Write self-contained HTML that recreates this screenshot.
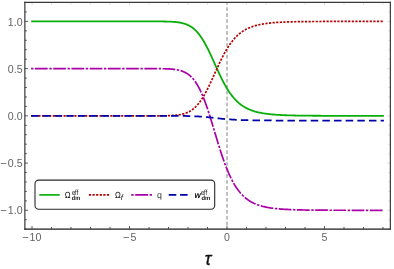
<!DOCTYPE html>
<html><head><meta charset="utf-8"><title>plot</title>
<style>html,body{margin:0;padding:0;background:#fff;}body{width:394px;height:269px;overflow:hidden;font-family:"Liberation Sans",sans-serif;}</style></head>
<body>
<svg width="394" height="269" viewBox="0 0 394 269" style="display:block;will-change:transform">
<rect x="0" y="0" width="394" height="269" fill="#fff"/>
<line x1="227.02" y1="2.4" x2="227.02" y2="229.14" stroke="#808080" stroke-width="1" stroke-dasharray="3.7 2.26" stroke-dashoffset="1.1"/>
<g fill="none" stroke-linejoin="round">
<path d="M31.10,21.40 L32.00,21.40 L32.98,21.40 L33.95,21.40 L34.93,21.40 L35.90,21.40 L36.88,21.40 L37.85,21.40 L38.82,21.40 L39.80,21.40 L40.77,21.40 L41.75,21.40 L42.73,21.40 L43.70,21.40 L44.68,21.40 L45.65,21.40 L46.62,21.40 L47.60,21.40 L48.57,21.40 L49.55,21.40 L50.52,21.40 L51.50,21.40 L52.48,21.40 L53.45,21.40 L54.43,21.40 L55.40,21.40 L56.38,21.40 L57.35,21.40 L58.32,21.40 L59.30,21.40 L60.27,21.40 L61.25,21.40 L62.23,21.40 L63.20,21.40 L64.18,21.40 L65.15,21.40 L66.12,21.40 L67.10,21.40 L68.07,21.40 L69.05,21.40 L70.02,21.40 L71.00,21.40 L71.98,21.40 L72.95,21.40 L73.93,21.40 L74.90,21.40 L75.88,21.40 L76.85,21.40 L77.82,21.40 L78.80,21.40 L79.78,21.40 L80.75,21.40 L81.73,21.40 L82.70,21.40 L83.68,21.40 L84.65,21.40 L85.62,21.40 L86.60,21.40 L87.57,21.40 L88.55,21.40 L89.53,21.40 L90.50,21.40 L91.48,21.40 L92.45,21.40 L93.43,21.40 L94.40,21.40 L95.38,21.40 L96.35,21.40 L97.32,21.40 L98.30,21.40 L99.28,21.40 L100.25,21.40 L101.23,21.40 L102.20,21.40 L103.18,21.40 L104.15,21.40 L105.12,21.40 L106.10,21.40 L107.07,21.40 L108.05,21.40 L109.03,21.40 L110.00,21.40 L110.97,21.40 L111.95,21.40 L112.93,21.40 L113.90,21.40 L114.88,21.40 L115.85,21.40 L116.83,21.40 L117.80,21.40 L118.78,21.40 L119.75,21.40 L120.72,21.40 L121.70,21.40 L122.68,21.40 L123.65,21.40 L124.62,21.40 L125.60,21.40 L126.58,21.40 L127.55,21.40 L128.53,21.40 L129.50,21.40 L130.48,21.40 L131.45,21.40 L132.43,21.40 L133.40,21.40 L134.38,21.40 L135.35,21.40 L136.33,21.40 L137.30,21.40 L138.28,21.40 L139.25,21.40 L140.23,21.40 L141.20,21.40 L142.18,21.40 L143.15,21.40 L144.12,21.40 L145.10,21.40 L146.08,21.40 L147.05,21.40 L148.03,21.40 L149.00,21.40 L149.98,21.40 L150.95,21.41 L151.93,21.41 L152.90,21.41 L153.88,21.41 L154.85,21.41 L155.83,21.42 L156.80,21.42 L157.78,21.43 L158.75,21.43 L159.73,21.44 L160.70,21.45 L161.68,21.46 L162.65,21.47 L163.62,21.48 L164.60,21.50 L165.58,21.52 L166.55,21.54 L167.53,21.56 L168.50,21.59 L169.48,21.63 L170.45,21.67 L171.43,21.72 L172.40,21.78 L173.38,21.84 L174.35,21.92 L175.33,22.00 L176.30,22.10 L177.28,22.22 L178.25,22.35 L179.23,22.49 L180.20,22.66 L181.18,22.85 L182.15,23.07 L183.12,23.32 L184.10,23.59 L185.08,23.90 L186.05,24.25 L187.03,24.64 L188.00,25.07 L188.98,25.55 L189.95,26.09 L190.93,26.68 L191.90,27.33 L192.88,28.04 L193.85,28.82 L194.82,29.68 L195.80,30.61 L196.78,31.61 L197.75,32.70 L198.73,33.88 L199.70,35.14 L200.68,36.48 L201.65,37.91 L202.62,39.43 L203.60,41.03 L204.57,42.71 L205.55,44.48 L206.53,46.31 L207.50,48.22 L208.48,50.18 L209.45,52.21 L210.43,54.27 L211.40,56.38 L212.38,58.52 L213.35,60.68 L214.32,62.85 L215.30,65.03 L216.28,67.19 L217.25,69.34 L218.23,71.47 L219.20,73.56 L220.18,75.61 L221.15,77.62 L222.12,79.58 L223.10,81.48 L224.08,83.32 L225.05,85.09 L226.03,86.80 L227.00,88.44 L227.98,90.01 L228.95,91.51 L229.93,92.94 L230.90,94.30 L231.88,95.59 L232.85,96.82 L233.83,97.98 L234.80,99.08 L235.78,100.11 L236.75,101.09 L237.73,102.01 L238.70,102.88 L239.68,103.69 L240.65,104.46 L241.62,105.17 L242.60,105.85 L243.58,106.48 L244.55,107.07 L245.53,107.63 L246.50,108.15 L247.48,108.64 L248.45,109.09 L249.43,109.52 L250.40,109.92 L251.38,110.29 L252.35,110.64 L253.33,110.97 L254.30,111.28 L255.28,111.56 L256.25,111.83 L257.23,112.08 L258.20,112.32 L259.18,112.54 L260.15,112.74 L261.12,112.93 L262.10,113.11 L263.08,113.28 L264.05,113.44 L265.03,113.59 L266.00,113.73 L266.98,113.86 L267.95,113.98 L268.93,114.09 L269.90,114.20 L270.88,114.30 L271.85,114.39 L272.83,114.48 L273.80,114.56 L274.78,114.64 L275.75,114.71 L276.73,114.78 L277.70,114.84 L278.68,114.90 L279.65,114.96 L280.62,115.01 L281.60,115.06 L282.58,115.11 L283.55,115.15 L284.53,115.19 L285.50,115.23 L286.48,115.26 L287.45,115.30 L288.43,115.33 L289.40,115.36 L290.38,115.39 L291.35,115.42 L292.33,115.44 L293.30,115.46 L294.28,115.49 L295.25,115.51 L296.23,115.53 L297.20,115.55 L298.18,115.56 L299.15,115.58 L300.12,115.59 L301.10,115.61 L302.08,115.62 L303.05,115.64 L304.03,115.65 L305.00,115.66 L305.98,115.67 L306.95,115.68 L307.93,115.69 L308.90,115.70 L309.88,115.71 L310.85,115.71 L311.83,115.72 L312.80,115.73 L313.78,115.74 L314.75,115.74 L315.73,115.75 L316.70,115.75 L317.68,115.76 L318.65,115.76 L319.62,115.77 L320.60,115.77 L321.58,115.78 L322.55,115.78 L323.53,115.79 L324.50,115.79 L325.48,115.79 L326.45,115.80 L327.43,115.80 L328.40,115.80 L329.38,115.80 L330.35,115.81 L331.33,115.81 L332.30,115.81 L333.28,115.81 L334.25,115.82 L335.23,115.82 L336.20,115.82 L337.18,115.82 L338.15,115.82 L339.12,115.82 L340.10,115.83 L341.08,115.83 L342.05,115.83 L343.03,115.83 L344.00,115.83 L344.98,115.83 L345.95,115.83 L346.93,115.83 L347.90,115.83 L348.88,115.84 L349.85,115.84 L350.83,115.84 L351.80,115.84 L352.77,115.84 L353.75,115.84 L354.73,115.84 L355.70,115.84 L356.68,115.84 L357.65,115.84 L358.62,115.84 L359.60,115.84 L360.58,115.84 L361.55,115.84 L362.52,115.84 L363.50,115.84 L364.48,115.84 L365.45,115.84 L366.43,115.84 L367.40,115.84 L368.38,115.85 L369.35,115.85 L370.33,115.85 L371.30,115.85 L372.27,115.85 L373.25,115.85 L374.23,115.85 L375.20,115.85 L376.18,115.85 L377.15,115.85 L378.12,115.85 L379.10,115.85 L380.08,115.85 L381.05,115.85 L382.02,115.85 L383.00,115.85 L383.90,115.85" stroke="#0aae0a" stroke-width="1.8"/>
<path d="M31.10,115.85 L32.00,115.85 L32.98,115.85 L33.95,115.85 L34.93,115.85 L35.90,115.85 L36.88,115.85 L37.85,115.85 L38.82,115.85 L39.80,115.85 L40.77,115.85 L41.75,115.85 L42.73,115.85 L43.70,115.85 L44.68,115.85 L45.65,115.85 L46.62,115.85 L47.60,115.85 L48.57,115.85 L49.55,115.85 L50.52,115.85 L51.50,115.85 L52.48,115.85 L53.45,115.85 L54.43,115.85 L55.40,115.85 L56.38,115.85 L57.35,115.85 L58.32,115.85 L59.30,115.85 L60.27,115.85 L61.25,115.85 L62.23,115.85 L63.20,115.85 L64.18,115.85 L65.15,115.85 L66.12,115.85 L67.10,115.85 L68.07,115.85 L69.05,115.85 L70.02,115.85 L71.00,115.85 L71.98,115.85 L72.95,115.85 L73.93,115.85 L74.90,115.85 L75.88,115.85 L76.85,115.85 L77.82,115.85 L78.80,115.85 L79.78,115.85 L80.75,115.85 L81.73,115.85 L82.70,115.85 L83.68,115.85 L84.65,115.85 L85.62,115.85 L86.60,115.85 L87.57,115.85 L88.55,115.85 L89.53,115.85 L90.50,115.85 L91.48,115.85 L92.45,115.85 L93.43,115.85 L94.40,115.85 L95.38,115.85 L96.35,115.85 L97.32,115.85 L98.30,115.85 L99.28,115.85 L100.25,115.85 L101.23,115.85 L102.20,115.85 L103.18,115.85 L104.15,115.85 L105.12,115.85 L106.10,115.85 L107.07,115.85 L108.05,115.85 L109.03,115.85 L110.00,115.85 L110.97,115.85 L111.95,115.85 L112.93,115.85 L113.90,115.85 L114.88,115.85 L115.85,115.85 L116.83,115.85 L117.80,115.85 L118.78,115.85 L119.75,115.85 L120.72,115.85 L121.70,115.85 L122.68,115.85 L123.65,115.85 L124.62,115.85 L125.60,115.85 L126.58,115.85 L127.55,115.85 L128.53,115.85 L129.50,115.85 L130.48,115.85 L131.45,115.85 L132.43,115.85 L133.40,115.85 L134.38,115.85 L135.35,115.85 L136.33,115.85 L137.30,115.85 L138.28,115.85 L139.25,115.85 L140.23,115.85 L141.20,115.85 L142.18,115.85 L143.15,115.85 L144.12,115.85 L145.10,115.85 L146.08,115.85 L147.05,115.85 L148.03,115.85 L149.00,115.85 L149.98,115.85 L150.95,115.84 L151.93,115.84 L152.90,115.84 L153.88,115.84 L154.85,115.84 L155.83,115.83 L156.80,115.83 L157.78,115.82 L158.75,115.82 L159.73,115.81 L160.70,115.80 L161.68,115.79 L162.65,115.78 L163.62,115.77 L164.60,115.75 L165.58,115.73 L166.55,115.71 L167.53,115.69 L168.50,115.66 L169.48,115.62 L170.45,115.58 L171.43,115.53 L172.40,115.47 L173.38,115.41 L174.35,115.33 L175.33,115.25 L176.30,115.15 L177.28,115.03 L178.25,114.90 L179.23,114.76 L180.20,114.59 L181.18,114.40 L182.15,114.18 L183.12,113.93 L184.10,113.66 L185.08,113.35 L186.05,113.00 L187.03,112.61 L188.00,112.18 L188.98,111.70 L189.95,111.16 L190.93,110.57 L191.90,109.92 L192.88,109.21 L193.85,108.43 L194.82,107.57 L195.80,106.64 L196.78,105.64 L197.75,104.55 L198.73,103.37 L199.70,102.11 L200.68,100.77 L201.65,99.34 L202.62,97.82 L203.60,96.22 L204.57,94.54 L205.55,92.77 L206.53,90.94 L207.50,89.03 L208.48,87.07 L209.45,85.04 L210.43,82.98 L211.40,80.87 L212.38,78.73 L213.35,76.57 L214.32,74.40 L215.30,72.22 L216.28,70.06 L217.25,67.91 L218.23,65.78 L219.20,63.69 L220.18,61.64 L221.15,59.63 L222.12,57.67 L223.10,55.77 L224.08,53.93 L225.05,52.16 L226.03,50.45 L227.00,48.81 L227.98,47.24 L228.95,45.74 L229.93,44.31 L230.90,42.95 L231.88,41.66 L232.85,40.43 L233.83,39.27 L234.80,38.17 L235.78,37.14 L236.75,36.16 L237.73,35.24 L238.70,34.37 L239.68,33.56 L240.65,32.79 L241.62,32.08 L242.60,31.40 L243.58,30.77 L244.55,30.18 L245.53,29.62 L246.50,29.10 L247.48,28.61 L248.45,28.16 L249.43,27.73 L250.40,27.33 L251.38,26.96 L252.35,26.61 L253.33,26.28 L254.30,25.97 L255.28,25.69 L256.25,25.42 L257.23,25.17 L258.20,24.93 L259.18,24.71 L260.15,24.51 L261.12,24.32 L262.10,24.14 L263.08,23.97 L264.05,23.81 L265.03,23.66 L266.00,23.52 L266.98,23.39 L267.95,23.27 L268.93,23.16 L269.90,23.05 L270.88,22.95 L271.85,22.86 L272.83,22.77 L273.80,22.69 L274.78,22.61 L275.75,22.54 L276.73,22.47 L277.70,22.41 L278.68,22.35 L279.65,22.29 L280.62,22.24 L281.60,22.19 L282.58,22.14 L283.55,22.10 L284.53,22.06 L285.50,22.02 L286.48,21.99 L287.45,21.95 L288.43,21.92 L289.40,21.89 L290.38,21.86 L291.35,21.83 L292.33,21.81 L293.30,21.79 L294.28,21.76 L295.25,21.74 L296.23,21.72 L297.20,21.70 L298.18,21.69 L299.15,21.67 L300.12,21.66 L301.10,21.64 L302.08,21.63 L303.05,21.61 L304.03,21.60 L305.00,21.59 L305.98,21.58 L306.95,21.57 L307.93,21.56 L308.90,21.55 L309.88,21.54 L310.85,21.54 L311.83,21.53 L312.80,21.52 L313.78,21.51 L314.75,21.51 L315.73,21.50 L316.70,21.50 L317.68,21.49 L318.65,21.49 L319.62,21.48 L320.60,21.48 L321.58,21.47 L322.55,21.47 L323.53,21.46 L324.50,21.46 L325.48,21.46 L326.45,21.45 L327.43,21.45 L328.40,21.45 L329.38,21.45 L330.35,21.44 L331.33,21.44 L332.30,21.44 L333.28,21.44 L334.25,21.43 L335.23,21.43 L336.20,21.43 L337.18,21.43 L338.15,21.43 L339.12,21.43 L340.10,21.42 L341.08,21.42 L342.05,21.42 L343.03,21.42 L344.00,21.42 L344.98,21.42 L345.95,21.42 L346.93,21.42 L347.90,21.42 L348.88,21.41 L349.85,21.41 L350.83,21.41 L351.80,21.41 L352.77,21.41 L353.75,21.41 L354.73,21.41 L355.70,21.41 L356.68,21.41 L357.65,21.41 L358.62,21.41 L359.60,21.41 L360.58,21.41 L361.55,21.41 L362.52,21.41 L363.50,21.41 L364.48,21.41 L365.45,21.41 L366.43,21.41 L367.40,21.41 L368.38,21.40 L369.35,21.40 L370.33,21.40 L371.30,21.40 L372.27,21.40 L373.25,21.40 L374.23,21.40 L375.20,21.40 L376.18,21.40 L377.15,21.40 L378.12,21.40 L379.10,21.40 L380.08,21.40 L381.05,21.40 L382.02,21.40 L383.00,21.40 L383.90,21.40" stroke="#b40000" stroke-width="1.7" stroke-dasharray="2.2 1.4" stroke-dashoffset="0"/>
<path d="M31.10,68.62 L32.00,68.62 L32.98,68.62 L33.95,68.62 L34.93,68.62 L35.90,68.62 L36.88,68.62 L37.85,68.62 L38.82,68.62 L39.80,68.62 L40.77,68.62 L41.75,68.62 L42.73,68.62 L43.70,68.62 L44.68,68.62 L45.65,68.62 L46.62,68.62 L47.60,68.62 L48.57,68.62 L49.55,68.62 L50.52,68.62 L51.50,68.62 L52.48,68.62 L53.45,68.62 L54.43,68.62 L55.40,68.62 L56.38,68.62 L57.35,68.62 L58.32,68.62 L59.30,68.62 L60.27,68.62 L61.25,68.62 L62.23,68.62 L63.20,68.62 L64.18,68.62 L65.15,68.62 L66.12,68.62 L67.10,68.62 L68.07,68.62 L69.05,68.62 L70.02,68.62 L71.00,68.62 L71.98,68.62 L72.95,68.62 L73.93,68.63 L74.90,68.63 L75.88,68.63 L76.85,68.63 L77.82,68.63 L78.80,68.63 L79.78,68.63 L80.75,68.63 L81.73,68.63 L82.70,68.63 L83.68,68.63 L84.65,68.63 L85.62,68.63 L86.60,68.63 L87.57,68.63 L88.55,68.63 L89.53,68.63 L90.50,68.63 L91.48,68.63 L92.45,68.63 L93.43,68.63 L94.40,68.63 L95.38,68.63 L96.35,68.63 L97.32,68.63 L98.30,68.63 L99.28,68.63 L100.25,68.63 L101.23,68.63 L102.20,68.63 L103.18,68.63 L104.15,68.63 L105.12,68.63 L106.10,68.63 L107.07,68.63 L108.05,68.63 L109.03,68.63 L110.00,68.63 L110.97,68.63 L111.95,68.63 L112.93,68.63 L113.90,68.63 L114.88,68.63 L115.85,68.63 L116.83,68.63 L117.80,68.63 L118.78,68.63 L119.75,68.63 L120.72,68.63 L121.70,68.63 L122.68,68.63 L123.65,68.63 L124.62,68.63 L125.60,68.63 L126.58,68.63 L127.55,68.63 L128.53,68.63 L129.50,68.63 L130.48,68.63 L131.45,68.63 L132.43,68.63 L133.40,68.63 L134.38,68.63 L135.35,68.63 L136.33,68.63 L137.30,68.63 L138.28,68.63 L139.25,68.63 L140.23,68.63 L141.20,68.63 L142.18,68.63 L143.15,68.63 L144.12,68.63 L145.10,68.63 L146.08,68.63 L147.05,68.63 L148.03,68.63 L149.00,68.63 L149.98,68.63 L150.95,68.63 L151.93,68.64 L152.90,68.64 L153.88,68.64 L154.85,68.65 L155.83,68.65 L156.80,68.66 L157.78,68.66 L158.75,68.67 L159.73,68.68 L160.70,68.69 L161.68,68.71 L162.65,68.73 L163.62,68.75 L164.60,68.77 L165.58,68.80 L166.55,68.83 L167.53,68.87 L168.50,68.92 L169.48,68.97 L170.45,69.03 L171.43,69.10 L172.40,69.19 L173.38,69.29 L174.35,69.40 L175.33,69.53 L176.30,69.68 L177.28,69.85 L178.25,70.04 L179.23,70.27 L180.20,70.52 L181.18,70.81 L182.15,71.13 L183.12,71.50 L184.10,71.91 L185.08,72.38 L186.05,72.90 L187.03,73.48 L188.00,74.13 L188.98,74.85 L189.95,75.65 L190.93,76.54 L191.90,77.51 L192.88,78.58 L193.85,79.76 L194.82,81.04 L195.80,82.43 L196.78,83.95 L197.75,85.58 L198.73,87.34 L199.70,89.23 L200.68,91.25 L201.65,93.39 L202.62,95.67 L203.60,98.07 L204.57,100.60 L205.55,103.24 L206.53,105.99 L207.50,108.85 L208.48,111.80 L209.45,114.83 L210.43,117.94 L211.40,121.10 L212.38,124.31 L213.35,127.55 L214.32,130.80 L215.30,134.06 L216.28,137.31 L217.25,140.54 L218.23,143.73 L219.20,146.86 L220.18,149.95 L221.15,152.96 L222.12,155.89 L223.10,158.74 L224.08,161.50 L225.05,164.16 L226.03,166.72 L227.00,169.18 L227.98,171.54 L228.95,173.79 L229.93,175.93 L230.90,177.97 L231.88,179.91 L232.85,181.75 L233.83,183.49 L234.80,185.14 L235.78,186.69 L236.75,188.16 L237.73,189.54 L238.70,190.84 L239.68,192.06 L240.65,193.21 L241.62,194.29 L242.60,195.30 L243.58,196.25 L244.55,197.14 L245.53,197.97 L246.50,198.75 L247.48,199.48 L248.45,200.17 L249.43,200.81 L250.40,201.41 L251.38,201.97 L252.35,202.49 L253.33,202.98 L254.30,203.44 L255.28,203.87 L256.25,204.27 L257.23,204.65 L258.20,205.00 L259.18,205.33 L260.15,205.64 L261.12,205.93 L262.10,206.20 L263.08,206.45 L264.05,206.69 L265.03,206.91 L266.00,207.11 L266.98,207.31 L267.95,207.49 L268.93,207.66 L269.90,207.82 L270.88,207.97 L271.85,208.11 L272.83,208.24 L273.80,208.37 L274.78,208.48 L275.75,208.59 L276.73,208.69 L277.70,208.79 L278.68,208.88 L279.65,208.96 L280.62,209.04 L281.60,209.11 L282.58,209.18 L283.55,209.25 L284.53,209.31 L285.50,209.37 L286.48,209.42 L287.45,209.47 L288.43,209.52 L289.40,209.57 L290.38,209.61 L291.35,209.65 L292.33,209.69 L293.30,209.72 L294.28,209.75 L295.25,209.79 L296.23,209.82 L297.20,209.84 L298.18,209.87 L299.15,209.89 L300.12,209.92 L301.10,209.94 L302.08,209.96 L303.05,209.98 L304.03,210.00 L305.00,210.01 L305.98,210.03 L306.95,210.04 L307.93,210.06 L308.90,210.07 L309.88,210.09 L310.85,210.10 L311.83,210.11 L312.80,210.12 L313.78,210.13 L314.75,210.14 L315.73,210.15 L316.70,210.16 L317.68,210.16 L318.65,210.17 L319.62,210.18 L320.60,210.19 L321.58,210.19 L322.55,210.20 L323.53,210.20 L324.50,210.21 L325.48,210.21 L326.45,210.22 L327.43,210.22 L328.40,210.23 L329.38,210.23 L330.35,210.24 L331.33,210.24 L332.30,210.24 L333.28,210.25 L334.25,210.25 L335.23,210.25 L336.20,210.25 L337.18,210.26 L338.15,210.26 L339.12,210.26 L340.10,210.26 L341.08,210.27 L342.05,210.27 L343.03,210.27 L344.00,210.27 L344.98,210.27 L345.95,210.27 L346.93,210.28 L347.90,210.28 L348.88,210.28 L349.85,210.28 L350.83,210.28 L351.80,210.28 L352.77,210.28 L353.75,210.28 L354.73,210.28 L355.70,210.28 L356.68,210.29 L357.65,210.29 L358.62,210.29 L359.60,210.29 L360.58,210.29 L361.55,210.29 L362.52,210.29 L363.50,210.29 L364.48,210.29 L365.45,210.29 L366.43,210.29 L367.40,210.29 L368.38,210.29 L369.35,210.29 L370.33,210.29 L371.30,210.29 L372.27,210.29 L373.25,210.29 L374.23,210.29 L375.20,210.30 L376.18,210.30 L377.15,210.30 L378.12,210.30 L379.10,210.30 L380.08,210.30 L381.05,210.30 L382.02,210.30 L383.00,210.30 L383.90,210.30" stroke="#aa00aa" stroke-width="1.7" stroke-dasharray="2.4 1.5 12.72 1.6" stroke-dashoffset="0"/>
<path d="M31.10,115.85 L32.00,115.85 L32.98,115.85 L33.95,115.85 L34.93,115.85 L35.90,115.85 L36.88,115.85 L37.85,115.85 L38.82,115.85 L39.80,115.85 L40.77,115.85 L41.75,115.85 L42.73,115.85 L43.70,115.85 L44.68,115.85 L45.65,115.85 L46.62,115.85 L47.60,115.85 L48.57,115.85 L49.55,115.85 L50.52,115.85 L51.50,115.85 L52.48,115.85 L53.45,115.85 L54.43,115.85 L55.40,115.85 L56.38,115.85 L57.35,115.85 L58.32,115.85 L59.30,115.85 L60.27,115.85 L61.25,115.85 L62.23,115.85 L63.20,115.85 L64.18,115.85 L65.15,115.85 L66.12,115.85 L67.10,115.85 L68.07,115.85 L69.05,115.85 L70.02,115.85 L71.00,115.85 L71.98,115.85 L72.95,115.85 L73.93,115.85 L74.90,115.85 L75.88,115.85 L76.85,115.85 L77.82,115.85 L78.80,115.85 L79.78,115.85 L80.75,115.85 L81.73,115.85 L82.70,115.85 L83.68,115.85 L84.65,115.85 L85.62,115.85 L86.60,115.85 L87.57,115.85 L88.55,115.85 L89.53,115.85 L90.50,115.85 L91.48,115.85 L92.45,115.85 L93.43,115.85 L94.40,115.85 L95.38,115.85 L96.35,115.85 L97.32,115.85 L98.30,115.85 L99.28,115.85 L100.25,115.85 L101.23,115.85 L102.20,115.85 L103.18,115.85 L104.15,115.85 L105.12,115.85 L106.10,115.85 L107.07,115.85 L108.05,115.85 L109.03,115.85 L110.00,115.85 L110.97,115.85 L111.95,115.85 L112.93,115.85 L113.90,115.85 L114.88,115.85 L115.85,115.85 L116.83,115.85 L117.80,115.85 L118.78,115.85 L119.75,115.85 L120.72,115.85 L121.70,115.85 L122.68,115.85 L123.65,115.85 L124.62,115.85 L125.60,115.85 L126.58,115.85 L127.55,115.85 L128.53,115.85 L129.50,115.85 L130.48,115.85 L131.45,115.85 L132.43,115.85 L133.40,115.85 L134.38,115.85 L135.35,115.85 L136.33,115.85 L137.30,115.85 L138.28,115.85 L139.25,115.85 L140.23,115.85 L141.20,115.85 L142.18,115.85 L143.15,115.85 L144.12,115.85 L145.10,115.85 L146.08,115.85 L147.05,115.85 L148.03,115.85 L149.00,115.85 L149.98,115.85 L150.95,115.85 L151.93,115.85 L152.90,115.85 L153.88,115.85 L154.85,115.85 L155.83,115.85 L156.80,115.85 L157.78,115.85 L158.75,115.85 L159.73,115.85 L160.70,115.85 L161.68,115.85 L162.65,115.85 L163.62,115.85 L164.60,115.85 L165.58,115.86 L166.55,115.86 L167.53,115.86 L168.50,115.86 L169.48,115.86 L170.45,115.86 L171.43,115.87 L172.40,115.87 L173.38,115.87 L174.35,115.88 L175.33,115.88 L176.30,115.89 L177.28,115.89 L178.25,115.90 L179.23,115.90 L180.20,115.91 L181.18,115.92 L182.15,115.93 L183.12,115.95 L184.10,115.96 L185.08,115.98 L186.05,115.99 L187.03,116.01 L188.00,116.03 L188.98,116.06 L189.95,116.08 L190.93,116.11 L191.90,116.15 L192.88,116.18 L193.85,116.22 L194.82,116.26 L195.80,116.31 L196.78,116.36 L197.75,116.42 L198.73,116.47 L199.70,116.54 L200.68,116.60 L201.65,116.68 L202.62,116.75 L203.60,116.83 L204.57,116.92 L205.55,117.00 L206.53,117.10 L207.50,117.19 L208.48,117.29 L209.45,117.39 L210.43,117.49 L211.40,117.60 L212.38,117.71 L213.35,117.81 L214.32,117.92 L215.30,118.03 L216.28,118.14 L217.25,118.25 L218.23,118.35 L219.20,118.46 L220.18,118.56 L221.15,118.66 L222.12,118.76 L223.10,118.85 L224.08,118.95 L225.05,119.03 L226.03,119.12 L227.00,119.20 L227.98,119.28 L228.95,119.36 L229.93,119.43 L230.90,119.49 L231.88,119.56 L232.85,119.62 L233.83,119.68 L234.80,119.73 L235.78,119.79 L236.75,119.83 L237.73,119.88 L238.70,119.92 L239.68,119.96 L240.65,120.00 L241.62,120.04 L242.60,120.07 L243.58,120.10 L244.55,120.13 L245.53,120.16 L246.50,120.19 L247.48,120.21 L248.45,120.23 L249.43,120.26 L250.40,120.28 L251.38,120.29 L252.35,120.31 L253.33,120.33 L254.30,120.34 L255.28,120.36 L256.25,120.37 L257.23,120.38 L258.20,120.40 L259.18,120.41 L260.15,120.42 L261.12,120.43 L262.10,120.44 L263.08,120.44 L264.05,120.45 L265.03,120.46 L266.00,120.47 L266.98,120.47 L267.95,120.48 L268.93,120.48 L269.90,120.49 L270.88,120.49 L271.85,120.50 L272.83,120.50 L273.80,120.51 L274.78,120.51 L275.75,120.52 L276.73,120.52 L277.70,120.52 L278.68,120.53 L279.65,120.53 L280.62,120.53 L281.60,120.53 L282.58,120.54 L283.55,120.54 L284.53,120.54 L285.50,120.54 L286.48,120.54 L287.45,120.54 L288.43,120.55 L289.40,120.55 L290.38,120.55 L291.35,120.55 L292.33,120.55 L293.30,120.55 L294.28,120.55 L295.25,120.56 L296.23,120.56 L297.20,120.56 L298.18,120.56 L299.15,120.56 L300.12,120.56 L301.10,120.56 L302.08,120.56 L303.05,120.56 L304.03,120.56 L305.00,120.56 L305.98,120.56 L306.95,120.56 L307.93,120.56 L308.90,120.56 L309.88,120.57 L310.85,120.57 L311.83,120.57 L312.80,120.57 L313.78,120.57 L314.75,120.57 L315.73,120.57 L316.70,120.57 L317.68,120.57 L318.65,120.57 L319.62,120.57 L320.60,120.57 L321.58,120.57 L322.55,120.57 L323.53,120.57 L324.50,120.57 L325.48,120.57 L326.45,120.57 L327.43,120.57 L328.40,120.57 L329.38,120.57 L330.35,120.57 L331.33,120.57 L332.30,120.57 L333.28,120.57 L334.25,120.57 L335.23,120.57 L336.20,120.57 L337.18,120.57 L338.15,120.57 L339.12,120.57 L340.10,120.57 L341.08,120.57 L342.05,120.57 L343.03,120.57 L344.00,120.57 L344.98,120.57 L345.95,120.57 L346.93,120.57 L347.90,120.57 L348.88,120.57 L349.85,120.57 L350.83,120.57 L351.80,120.57 L352.77,120.57 L353.75,120.57 L354.73,120.57 L355.70,120.57 L356.68,120.57 L357.65,120.57 L358.62,120.57 L359.60,120.57 L360.58,120.57 L361.55,120.57 L362.52,120.57 L363.50,120.57 L364.48,120.57 L365.45,120.57 L366.43,120.57 L367.40,120.57 L368.38,120.57 L369.35,120.57 L370.33,120.57 L371.30,120.57 L372.27,120.57 L373.25,120.57 L374.23,120.57 L375.20,120.57 L376.18,120.57 L377.15,120.57 L378.12,120.57 L379.10,120.57 L380.08,120.57 L381.05,120.57 L382.02,120.57 L383.00,120.57 L383.90,120.57" stroke="#0000aa" stroke-width="1.75" stroke-dasharray="7.5 4.15" stroke-dashoffset="-0.2"/>
</g>
<line x1="24.86" y1="229.19" x2="26.86" y2="229.19" stroke="#585858" stroke-width="1"/><line x1="390.35" y1="229.19" x2="388.35" y2="229.19" stroke="#dadada" stroke-width="0.9"/><line x1="24.86" y1="219.75" x2="26.86" y2="219.75" stroke="#585858" stroke-width="1"/><line x1="390.35" y1="219.75" x2="388.35" y2="219.75" stroke="#dadada" stroke-width="0.9"/><line x1="24.86" y1="210.30" x2="27.96" y2="210.30" stroke="#585858" stroke-width="1"/><line x1="390.35" y1="210.30" x2="387.25" y2="210.30" stroke="#dadada" stroke-width="0.9"/><line x1="24.86" y1="200.86" x2="26.86" y2="200.86" stroke="#585858" stroke-width="1"/><line x1="390.35" y1="200.86" x2="388.35" y2="200.86" stroke="#dadada" stroke-width="0.9"/><line x1="24.86" y1="191.41" x2="26.86" y2="191.41" stroke="#585858" stroke-width="1"/><line x1="390.35" y1="191.41" x2="388.35" y2="191.41" stroke="#dadada" stroke-width="0.9"/><line x1="24.86" y1="181.96" x2="26.86" y2="181.96" stroke="#585858" stroke-width="1"/><line x1="390.35" y1="181.96" x2="388.35" y2="181.96" stroke="#dadada" stroke-width="0.9"/><line x1="24.86" y1="172.52" x2="26.86" y2="172.52" stroke="#585858" stroke-width="1"/><line x1="390.35" y1="172.52" x2="388.35" y2="172.52" stroke="#dadada" stroke-width="0.9"/><line x1="24.86" y1="163.07" x2="27.96" y2="163.07" stroke="#585858" stroke-width="1"/><line x1="390.35" y1="163.07" x2="387.25" y2="163.07" stroke="#dadada" stroke-width="0.9"/><line x1="24.86" y1="153.63" x2="26.86" y2="153.63" stroke="#585858" stroke-width="1"/><line x1="390.35" y1="153.63" x2="388.35" y2="153.63" stroke="#dadada" stroke-width="0.9"/><line x1="24.86" y1="144.19" x2="26.86" y2="144.19" stroke="#585858" stroke-width="1"/><line x1="390.35" y1="144.19" x2="388.35" y2="144.19" stroke="#dadada" stroke-width="0.9"/><line x1="24.86" y1="134.74" x2="26.86" y2="134.74" stroke="#585858" stroke-width="1"/><line x1="390.35" y1="134.74" x2="388.35" y2="134.74" stroke="#dadada" stroke-width="0.9"/><line x1="24.86" y1="125.29" x2="26.86" y2="125.29" stroke="#585858" stroke-width="1"/><line x1="390.35" y1="125.29" x2="388.35" y2="125.29" stroke="#dadada" stroke-width="0.9"/><line x1="24.86" y1="115.85" x2="27.96" y2="115.85" stroke="#585858" stroke-width="1"/><line x1="390.35" y1="115.85" x2="387.25" y2="115.85" stroke="#dadada" stroke-width="0.9"/><line x1="24.86" y1="106.41" x2="26.86" y2="106.41" stroke="#585858" stroke-width="1"/><line x1="390.35" y1="106.41" x2="388.35" y2="106.41" stroke="#dadada" stroke-width="0.9"/><line x1="24.86" y1="96.96" x2="26.86" y2="96.96" stroke="#585858" stroke-width="1"/><line x1="390.35" y1="96.96" x2="388.35" y2="96.96" stroke="#dadada" stroke-width="0.9"/><line x1="24.86" y1="87.51" x2="26.86" y2="87.51" stroke="#585858" stroke-width="1"/><line x1="390.35" y1="87.51" x2="388.35" y2="87.51" stroke="#dadada" stroke-width="0.9"/><line x1="24.86" y1="78.07" x2="26.86" y2="78.07" stroke="#585858" stroke-width="1"/><line x1="390.35" y1="78.07" x2="388.35" y2="78.07" stroke="#dadada" stroke-width="0.9"/><line x1="24.86" y1="68.62" x2="27.96" y2="68.62" stroke="#585858" stroke-width="1"/><line x1="390.35" y1="68.62" x2="387.25" y2="68.62" stroke="#dadada" stroke-width="0.9"/><line x1="24.86" y1="59.18" x2="26.86" y2="59.18" stroke="#585858" stroke-width="1"/><line x1="390.35" y1="59.18" x2="388.35" y2="59.18" stroke="#dadada" stroke-width="0.9"/><line x1="24.86" y1="49.73" x2="26.86" y2="49.73" stroke="#585858" stroke-width="1"/><line x1="390.35" y1="49.73" x2="388.35" y2="49.73" stroke="#dadada" stroke-width="0.9"/><line x1="24.86" y1="40.29" x2="26.86" y2="40.29" stroke="#585858" stroke-width="1"/><line x1="390.35" y1="40.29" x2="388.35" y2="40.29" stroke="#dadada" stroke-width="0.9"/><line x1="24.86" y1="30.84" x2="26.86" y2="30.84" stroke="#585858" stroke-width="1"/><line x1="390.35" y1="30.84" x2="388.35" y2="30.84" stroke="#dadada" stroke-width="0.9"/><line x1="24.86" y1="21.40" x2="27.96" y2="21.40" stroke="#585858" stroke-width="1"/><line x1="390.35" y1="21.40" x2="387.25" y2="21.40" stroke="#dadada" stroke-width="0.9"/><line x1="24.86" y1="11.95" x2="26.86" y2="11.95" stroke="#585858" stroke-width="1"/><line x1="390.35" y1="11.95" x2="388.35" y2="11.95" stroke="#dadada" stroke-width="0.9"/><line x1="24.86" y1="2.51" x2="26.86" y2="2.51" stroke="#585858" stroke-width="1"/><line x1="390.35" y1="2.51" x2="388.35" y2="2.51" stroke="#dadada" stroke-width="0.9"/><line x1="32.00" y1="229.14" x2="32.00" y2="226.04" stroke="#585858" stroke-width="1"/><line x1="32.00" y1="2.4" x2="32.00" y2="5.5" stroke="#dcdcdc" stroke-width="0.9"/><line x1="51.50" y1="229.14" x2="51.50" y2="226.94" stroke="#585858" stroke-width="1"/><line x1="51.50" y1="2.4" x2="51.50" y2="4.6" stroke="#dcdcdc" stroke-width="0.9"/><line x1="71.00" y1="229.14" x2="71.00" y2="226.94" stroke="#585858" stroke-width="1"/><line x1="71.00" y1="2.4" x2="71.00" y2="4.6" stroke="#dcdcdc" stroke-width="0.9"/><line x1="90.50" y1="229.14" x2="90.50" y2="226.94" stroke="#585858" stroke-width="1"/><line x1="90.50" y1="2.4" x2="90.50" y2="4.6" stroke="#dcdcdc" stroke-width="0.9"/><line x1="110.00" y1="229.14" x2="110.00" y2="226.94" stroke="#585858" stroke-width="1"/><line x1="110.00" y1="2.4" x2="110.00" y2="4.6" stroke="#dcdcdc" stroke-width="0.9"/><line x1="129.50" y1="229.14" x2="129.50" y2="226.04" stroke="#585858" stroke-width="1"/><line x1="129.50" y1="2.4" x2="129.50" y2="5.5" stroke="#dcdcdc" stroke-width="0.9"/><line x1="149.00" y1="229.14" x2="149.00" y2="226.94" stroke="#585858" stroke-width="1"/><line x1="149.00" y1="2.4" x2="149.00" y2="4.6" stroke="#dcdcdc" stroke-width="0.9"/><line x1="168.50" y1="229.14" x2="168.50" y2="226.94" stroke="#585858" stroke-width="1"/><line x1="168.50" y1="2.4" x2="168.50" y2="4.6" stroke="#dcdcdc" stroke-width="0.9"/><line x1="188.00" y1="229.14" x2="188.00" y2="226.94" stroke="#585858" stroke-width="1"/><line x1="188.00" y1="2.4" x2="188.00" y2="4.6" stroke="#dcdcdc" stroke-width="0.9"/><line x1="207.50" y1="229.14" x2="207.50" y2="226.94" stroke="#585858" stroke-width="1"/><line x1="207.50" y1="2.4" x2="207.50" y2="4.6" stroke="#dcdcdc" stroke-width="0.9"/><line x1="227.00" y1="229.14" x2="227.00" y2="226.04" stroke="#585858" stroke-width="1"/><line x1="227.00" y1="2.4" x2="227.00" y2="5.5" stroke="#dcdcdc" stroke-width="0.9"/><line x1="246.50" y1="229.14" x2="246.50" y2="226.94" stroke="#585858" stroke-width="1"/><line x1="246.50" y1="2.4" x2="246.50" y2="4.6" stroke="#dcdcdc" stroke-width="0.9"/><line x1="266.00" y1="229.14" x2="266.00" y2="226.94" stroke="#585858" stroke-width="1"/><line x1="266.00" y1="2.4" x2="266.00" y2="4.6" stroke="#dcdcdc" stroke-width="0.9"/><line x1="285.50" y1="229.14" x2="285.50" y2="226.94" stroke="#585858" stroke-width="1"/><line x1="285.50" y1="2.4" x2="285.50" y2="4.6" stroke="#dcdcdc" stroke-width="0.9"/><line x1="305.00" y1="229.14" x2="305.00" y2="226.94" stroke="#585858" stroke-width="1"/><line x1="305.00" y1="2.4" x2="305.00" y2="4.6" stroke="#dcdcdc" stroke-width="0.9"/><line x1="324.50" y1="229.14" x2="324.50" y2="226.04" stroke="#585858" stroke-width="1"/><line x1="324.50" y1="2.4" x2="324.50" y2="5.5" stroke="#dcdcdc" stroke-width="0.9"/><line x1="344.00" y1="229.14" x2="344.00" y2="226.94" stroke="#585858" stroke-width="1"/><line x1="344.00" y1="2.4" x2="344.00" y2="4.6" stroke="#dcdcdc" stroke-width="0.9"/><line x1="363.50" y1="229.14" x2="363.50" y2="226.94" stroke="#585858" stroke-width="1"/><line x1="363.50" y1="2.4" x2="363.50" y2="4.6" stroke="#dcdcdc" stroke-width="0.9"/><line x1="383.00" y1="229.14" x2="383.00" y2="226.94" stroke="#585858" stroke-width="1"/><line x1="383.00" y1="2.4" x2="383.00" y2="4.6" stroke="#dcdcdc" stroke-width="0.9"/>
<line x1="24.86" y1="1.7999999999999998" x2="24.86" y2="229.73999999999998" stroke="#383838" stroke-width="1.2"/>
<rect x="24.259999999999998" y="228.41" width="366.69" height="1.43" fill="#383838"/>
<line x1="24.259999999999998" y1="2.4" x2="390.95000000000005" y2="2.4" stroke="#383838" stroke-width="1.2"/>
<line x1="390.35" y1="1.7999999999999998" x2="390.35" y2="229.73999999999998" stroke="#383838" stroke-width="1.2"/>
<g font-family="Liberation Sans, sans-serif" font-size="10.6" fill="#646464">
<text x="22.6" y="25.50" text-anchor="end">1.0</text>
<text x="22.6" y="72.72" text-anchor="end">0.5</text>
<text x="22.6" y="119.95" text-anchor="end">0.0</text>
<text x="22.6" y="167.17" text-anchor="end">0.5</text>
<text x="6.8" y="167.22" text-anchor="end" font-size="11.2">−</text>
<text x="22.6" y="214.40" text-anchor="end">1.0</text>
<text x="6.8" y="214.45" text-anchor="end" font-size="11.2">−</text>
<text x="29.5" y="240.9">10</text><text x="22.2" y="240.95" font-size="11.2">−</text>
<text x="130.45" y="240.9">5</text><text x="123.0" y="240.95" font-size="11.2">−</text>
<text x="227.00" y="240.9" text-anchor="middle">0</text>
<text x="324.50" y="240.9" text-anchor="middle">5</text>
</g>
<text x="208.1" y="264.8" text-anchor="middle" font-family="Liberation Sans, sans-serif" font-style="italic" font-size="17.6" fill="#111" stroke="#111" stroke-width="0.35">τ</text>
<rect x="35.0" y="180.08" width="179.7" height="29.12" rx="3.7" ry="3.7" fill="#fff" stroke="#2a2a2a" stroke-width="1.1"/>
<g fill="none">
<line x1="39.3" y1="194.9" x2="59.7" y2="194.9" stroke="#00aa00" stroke-width="1.6"/>
<line x1="88.9" y1="194.9" x2="109.3" y2="194.9" stroke="#b40000" stroke-width="1.7" stroke-dasharray="2.2 1.4"/>
<line x1="131.3" y1="194.9" x2="152" y2="194.9" stroke="#aa00aa" stroke-width="1.7" stroke-dasharray="2.4 1.5 12.8 1.6"/>
<line x1="168.7" y1="194.9" x2="187.6" y2="194.9" stroke="#0000aa" stroke-width="1.7" stroke-dasharray="7.6 3.8"/>
</g>
<g font-family="Liberation Sans, sans-serif" fill="#111" text-rendering="geometricPrecision">
<text x="64.8" y="198.0" font-size="8.8" textLength="5.8" lengthAdjust="spacingAndGlyphs">Ω</text>
<g transform="translate(71.9 194.7) scale(0.77 1)"><text x="0 4.2 6.25" y="0" font-size="7.6">eff</text></g>
<text x="71.8" y="199.75" font-size="6.1" font-weight="bold" textLength="8.2" lengthAdjust="spacingAndGlyphs">dm</text>
<text x="115.0" y="198.0" font-size="8.8" textLength="5.8" lengthAdjust="spacingAndGlyphs">Ω</text>
<text x="120.8" y="200.0" font-size="7.6" font-style="italic">f</text>
<text x="156.9" y="197.6" font-size="8.8" fill="#333">q</text>
<text x="194.5" y="197.8" font-size="8.8" font-style="italic" font-weight="bold" textLength="6.3" lengthAdjust="spacingAndGlyphs">w</text>
<g transform="translate(200.9 194.7) scale(0.77 1)"><text x="0 4.2 6.25" y="0" font-size="7.6">eff</text></g>
<text x="201.5" y="199.75" font-size="6.1" font-weight="bold" textLength="8.8" lengthAdjust="spacingAndGlyphs">dm</text>
</g>
</svg>
</body></html>
